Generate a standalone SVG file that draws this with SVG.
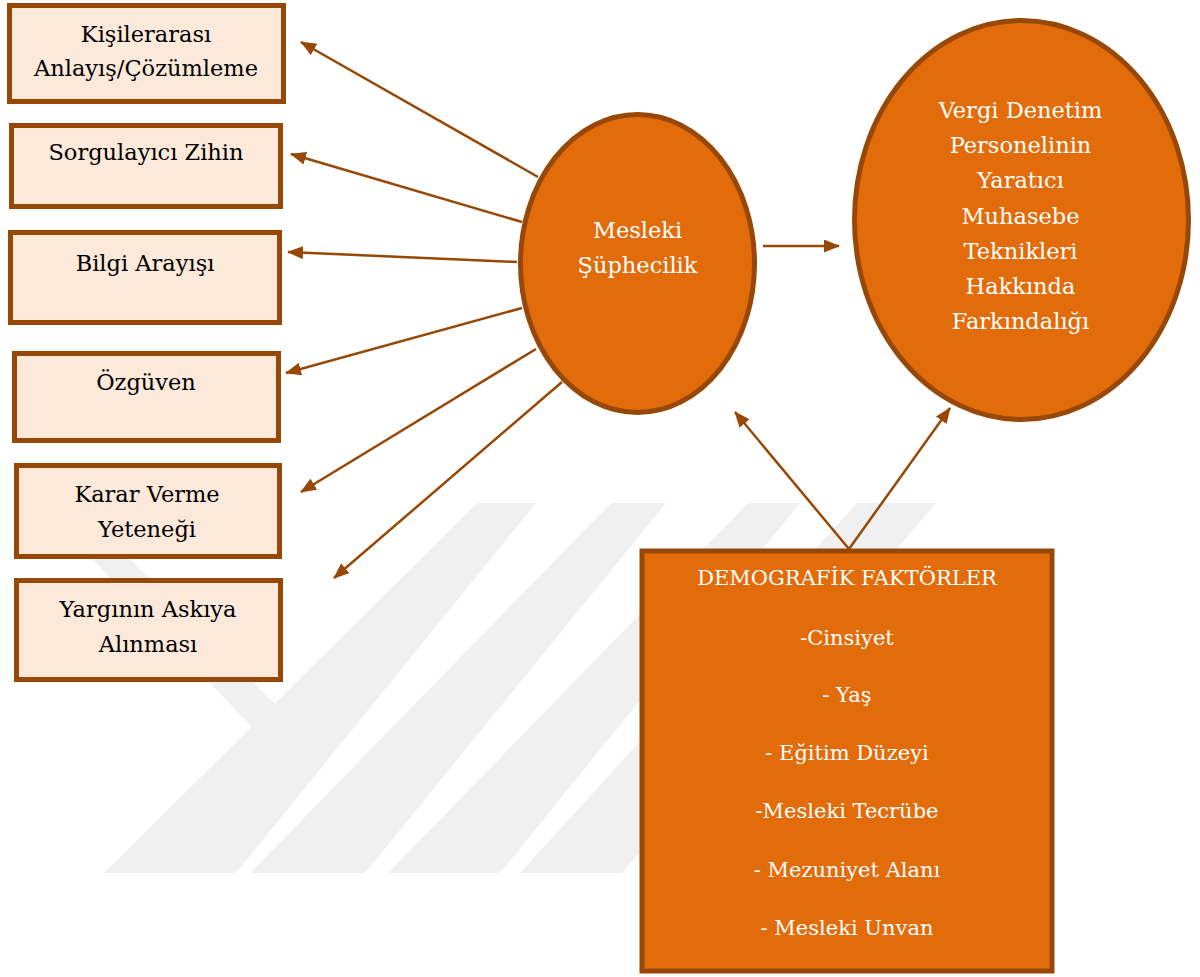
<svg xmlns="http://www.w3.org/2000/svg" width="1200" height="977" viewBox="0 0 1200 977">
<defs>
<style>
.box{fill:#FDE9D9;stroke:#984806;stroke-width:5;}
.oval{fill:#E36C0A;stroke:#984806;stroke-width:5;}
.lbl{font-size:22.5px;fill:#000;text-anchor:middle;}
.wl{font-size:22.5px;fill:#fff;text-anchor:middle;}
.dl{font-size:21px;fill:#fff;text-anchor:middle;}
.conn line{stroke:#984806;stroke-width:2.5;marker-end:url(#ah);}
.wm{fill:#f0f0f0;}
</style>
<marker id="ah" markerUnits="userSpaceOnUse" markerWidth="16" markerHeight="13" refX="15" refY="6.5" orient="auto">
<path d="M0,0 L16,6.5 L0,13 Z" fill="#984806"/>
</marker>
</defs>
<rect width="1200" height="977" fill="#fff"/>
<g id="watermark">
<polygon class="wm" points="39,503 74,503 285,714 252,727"/>
<polygon class="wm" points="477,503 536,503 236,873 104,873"/>
<polygon class="wm" points="611,503 666,503 365,873 250,873"/>
<polygon class="wm" points="748,503 800,503 500,873 388,873"/>
<polygon class="wm" points="857,503 936,503 622,873 520,873"/>
</g>
<g id="connectors" class="conn">
<line x1="538" y1="177" x2="301" y2="42"/>
<line x1="522" y1="222" x2="291" y2="154"/>
<line x1="517" y1="262" x2="288" y2="252"/>
<line x1="522" y1="308" x2="286" y2="373"/>
<line x1="536" y1="349" x2="301" y2="492"/>
<line x1="562" y1="382" x2="334" y2="578"/>
<line x1="763" y1="246" x2="839" y2="246"/>
<line x1="849" y1="549" x2="735" y2="412"/>
<line x1="849" y1="549" x2="950" y2="408"/>
</g>
<g font-family="DejaVu Serif, serif">
<g id="n-kisilerarasi">
<rect class="box" x="9.5" y="5.5" width="274" height="96"/>
<text class="lbl" x="146" y="42">Kişilerarası</text>
<text class="lbl" x="146" y="76">Anlayış/Çözümleme</text>
</g>
<g id="n-sorgulayici">
<rect class="box" x="11.5" y="125.5" width="269" height="81"/>
<text class="lbl" x="146" y="160">Sorgulayıcı Zihin</text>
</g>
<g id="n-bilgi">
<rect class="box" x="10.5" y="232.5" width="269" height="90"/>
<text class="lbl" x="145" y="271">Bilgi Arayışı</text>
</g>
<g id="n-ozguven">
<rect class="box" x="14.5" y="353.5" width="264" height="87"/>
<text class="lbl" x="146" y="390">Özgüven</text>
</g>
<g id="n-karar">
<rect class="box" x="16.5" y="465.5" width="263" height="91"/>
<text class="lbl" x="147" y="502">Karar Verme</text>
<text class="lbl" x="147" y="537">Yeteneği</text>
</g>
<g id="n-yargi">
<rect class="box" x="16.5" y="580.5" width="264" height="99"/>
<text class="lbl" x="148" y="617">Yargının Askıya</text>
<text class="lbl" x="148" y="652">Alınması</text>
</g>
<g id="n-mesleki">
<ellipse class="oval" cx="637.5" cy="263.5" rx="117" ry="149"/>
<text class="wl" x="637.5" y="238">Mesleki</text>
<text class="wl" x="637.5" y="273">Şüphecilik</text>
</g>
<g id="n-vergi">
<ellipse class="oval" cx="1021.5" cy="220" rx="167" ry="199.5"/>
<text class="wl" x="1020.5" y="118">Vergi Denetim</text>
<text class="wl" x="1020.5" y="153">Personelinin</text>
<text class="wl" x="1020.5" y="188">Yaratıcı</text>
<text class="wl" x="1020.5" y="224">Muhasebe</text>
<text class="wl" x="1020.5" y="259">Teknikleri</text>
<text class="wl" x="1020.5" y="294">Hakkında</text>
<text class="wl" x="1020.5" y="329">Farkındalığı</text>
</g>
<g id="n-demografik">
<rect class="oval" x="642" y="551" width="410" height="420"/>
<text class="dl" x="847" y="585">DEMOGRAFİK FAKTÖRLER</text>
<text class="dl" x="847" y="645">-Cinsiyet</text>
<text class="dl" x="847" y="702">- Yaş</text>
<text class="dl" x="847" y="760">- Eğitim Düzeyi</text>
<text class="dl" x="847" y="818">-Mesleki Tecrübe</text>
<text class="dl" x="847" y="877">- Mezuniyet Alanı</text>
<text class="dl" x="847" y="935">- Mesleki Unvan</text>
</g>
</g>
</svg>
